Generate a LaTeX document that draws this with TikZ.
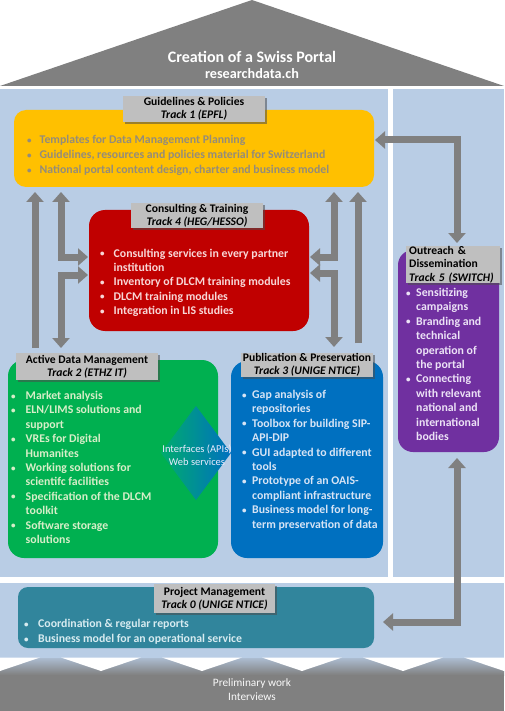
\documentclass[tikz,border=0pt]{standalone}
\usepackage{fontspec}
\setmainfont{Carlito}
\usetikzlibrary{arrows.meta,shadows}
\definecolor{lblue}{RGB}{185,205,229}
\definecolor{roofgray}{RGB}{128,128,128}
\definecolor{arrgray}{RGB}{128,128,128}
\definecolor{ygold}{RGB}{255,192,0}
\definecolor{ytext}{RGB}{148,140,122}
\definecolor{rred}{RGB}{192,0,0}
\definecolor{rtext}{RGB}{248,215,215}
\definecolor{ggreen}{RGB}{0,176,80}
\definecolor{gtext}{RGB}{215,238,200}
\definecolor{bblue}{RGB}{0,112,192}
\definecolor{btext}{RGB}{215,228,245}
\definecolor{ppurple}{RGB}{112,48,160}
\definecolor{ptext}{RGB}{236,226,246}
\definecolor{tteal}{RGB}{49,133,156}
\definecolor{ttext}{RGB}{215,235,240}
\definecolor{lblgray}{RGB}{191,191,191}
\definecolor{fadeblue}{RGB}{172,188,208}
\newcommand\bodyfont{\fontsize{11.8}{14.4}\selectfont\bfseries}
\newcommand\lblfont{\fontsize{11.6}{13.4}\selectfont}
\newcommand\trk[1]{\textbf{\textit{#1}}}
\newcommand\bul{\raisebox{0.5pt}{\fontsize{9}{9}\selectfont\textbullet}}
\begin{document}
\begin{tikzpicture}[x=1pt,y=-1pt,
  panel/.style={fill=lblue,draw=none},
  lbl/.style={fill=lblgray,draw=none,inner sep=0pt,align=center,font=\lblfont,text=black,
     drop shadow={shadow xshift=1.8pt,shadow yshift=-1.8pt,opacity=0.55,fill=black!70}},
  btxt/.style={anchor=base west,inner sep=0pt,font=\bodyfont},
  garrow/.style={draw=arrgray,line width=7pt,line join=miter,
     arrows={-},>={Triangle[width=17pt,length=10pt]}},
]
\useasboundingbox (0,0) rectangle (504,711);
\fill[white] (0,0) rectangle (504,711);
% roof
\fill[roofgray] (0,86) -- (252,0) -- (504,86) -- cycle;
\node[text=white,font=\fontsize{16}{18}\selectfont\bfseries] (title) at (252,57) {Creation of a Swiss Portal};
\node[text=white,font=\fontsize{14.2}{16}\selectfont\bfseries] (subtitle) at (252,73.5) {researchdata.ch};
% panels
\fill[panel] (0,89) rectangle (388,577);
\fill[panel] (393,89) rectangle (504,577);
\fill[panel] (0,583) rectangle (504,658);
% foundation
\shade[top color=fadeblue,bottom color=roofgray] (0,658) rectangle (504,675);
\fill[roofgray] (0,674.5) rectangle (504,711);
\foreach \c in {0,101,202,302,403,504}{
  \fill[white] (\c-40,657.5) -- (\c+40,657.5) -- (\c,671) -- cycle;
}
\node[text=white!95!gray,font=\fontsize{11.3}{14}\selectfont,align=center] (prelim) at (252,690) {Preliminary work\\Interviews};

% yellow
\fill[ygold,rounded corners=12pt] (14,110) rectangle (374,187);
\node[btxt,text=ytext] (ytxt) at (27,144) {\begin{tabular}[t]{@{}p{12.5pt}@{}l@{}}
\bul & Templates for Data Management Planning\\[0.6pt]
\bul & Guidelines, resources and policies material for Switzerland\\[0.6pt]
\bul & National portal content design, charter and business model
\end{tabular}};
\node[lbl,minimum width=142pt,minimum height=26pt] (L1) at (194,109) {\textbf{Guidelines \& Policies}\\\trk{Track 1 (EPFL)}};

% red
\fill[rred,rounded corners=16pt] (89,210) rectangle (309,331);
\node[btxt,text=rtext] (rtxt) at (100,257) {\begin{tabular}[t]{@{}p{13.5pt}@{}l@{}}
\bul & Consulting services in every partner\\
 & institution\\
\bul & Inventory of DLCM training modules\\
\bul & DLCM training modules\\
\bul & Integration in LIS studies
\end{tabular}};
\node[lbl,minimum width=132pt,minimum height=25pt] (L4) at (197,215.5) {\textbf{Consulting \& Training}\\\trk{Track 4 (HEG/HESSO)}};

% green
\fill[ggreen,rounded corners=16pt] (8,360) rectangle (218,558);
\node[btxt,text=gtext] (gtxt) at (11,399.5) {\begin{tabular}[t]{@{}p{14.5pt}@{}l@{}}
\bul & Market analysis\\
\bul & ELN/LIMS solutions and\\
 & support\\
\bul & VREs for Digital\\
 & Humanites\\
\bul & Working solutions for\\
 & scientifc facilities\\
\bul & Specification of the DLCM\\
 & toolkit\\
\bul & Software storage\\
 & solutions
\end{tabular}};
\node[lbl,minimum width=142pt,minimum height=27pt] (L2) at (87,366.5) {\textbf{Active Data Management}\\\trk{Track 2 (ETHZ IT)}};

% blue
\fill[bblue,rounded corners=16pt] (231,361) rectangle (383,558);
\node[btxt,text=btext] (btxt) at (242,398.5) {\begin{tabular}[t]{@{}p{10pt}@{}l@{}}
\bul & Gap analysis of\\
 & repositories\\
\bul & Toolbox for building SIP-\\
 & API-DIP\\
\bul & GUI adapted to different\\
 & tools\\
\bul & Prototype of an OAIS-\\
 & compliant infrastructure\\
\bul & Business model for long-\\
 & term preservation of data
\end{tabular}};
\node[lbl,minimum width=132pt,minimum height=24pt] (L3) at (307,365) {\textbf{Publication \& Preservation}\\\trk{Track 3 (UNIGE NTICE)}};

% diamond
\shade[left color={rgb,255:red,0;green,172;blue,110},right color=bblue] (161,453) -- (196,406) -- (231,453) -- (196,500) -- cycle;
\node[text=white!92!blue,font=\fontsize{10.5}{13}\selectfont,align=center] (iface) at (197,455) {Interfaces (APIs)\\Web services};

% purple
\fill[ppurple,rounded corners=15pt] (398,250) rectangle (499,452);
\node[btxt,text=ptext] (ptxt) at (406,296.5) {\begin{tabular}[t]{@{}p{10pt}@{}l@{}}
\bul & Sensitizing\\
 & campaigns\\
\bul & Branding and\\
 & technical\\
 & operation of\\
 & the portal\\
\bul & Connecting\\
 & with relevant\\
 & national and\\
 & international\\
 & bodies
\end{tabular}};
\node[lbl,minimum width=94pt,minimum height=37pt,align=left,anchor=north west,text width=88pt] (L5) at (406,246) {\textbf{Outreach \&}\\\textbf{Dissemination}\\\trk{Track 5 (SWITCH)}};

% teal
\fill[tteal,rounded corners=10pt] (18,587) rectangle (374,648);
\node[btxt,text=ttext] (ttxt) at (24,627.5) {\begin{tabular}[t]{@{}p{14pt}@{}l@{}}
\bul & Coordination \& regular reports\\[0.6pt]
\bul & Business model for an operational service
\end{tabular}};
\node[lbl,minimum width=121pt,minimum height=29pt] (L0) at (214.5,598.5) {\textbf{Project Management}\\\trk{Track 0 (UNIGE NTICE)}};

% arrow coordinates
\coordinate (a1b) at (35,348); \coordinate (a1t) at (35,192);
\coordinate (a2t) at (61,192); \coordinate (a2k) at (61,257); \coordinate (a2r) at (88,257);
\coordinate (a3r) at (88,275); \coordinate (a3k) at (61,275); \coordinate (a3b) at (61,348);
\coordinate (b1b) at (358,343); \coordinate (b1t) at (358,192);
\coordinate (b2t) at (334,192); \coordinate (b2k) at (334,257); \coordinate (b2l) at (310,257);
\coordinate (b3l) at (310,273); \coordinate (b3k) at (334,273); \coordinate (b3b) at (334,347);
\coordinate (c1l) at (375,140); \coordinate (c1k) at (457,140); \coordinate (c1b) at (457,243);
\coordinate (d1t) at (457,458); \coordinate (d1k) at (457,622); \coordinate (d1l) at (383,622);
\draw[garrow,->] (a1b) -- (a1t);
\draw[garrow,<->] (a2t) -- (a2k) -- (a2r);
\draw[garrow,<->] (a3r) -- (a3k) -- (a3b);
\draw[garrow,->] (b1b) -- (b1t);
\draw[garrow,<->] (b2t) -- (b2k) -- (b2l);
\draw[garrow,<->] (b3l) -- (b3k) -- (b3b);
\draw[garrow,<->] (c1l) -- (c1k) -- (c1b);
\draw[garrow,<->] (d1t) -- (d1k) -- (d1l);
\end{tikzpicture}
\end{document}
